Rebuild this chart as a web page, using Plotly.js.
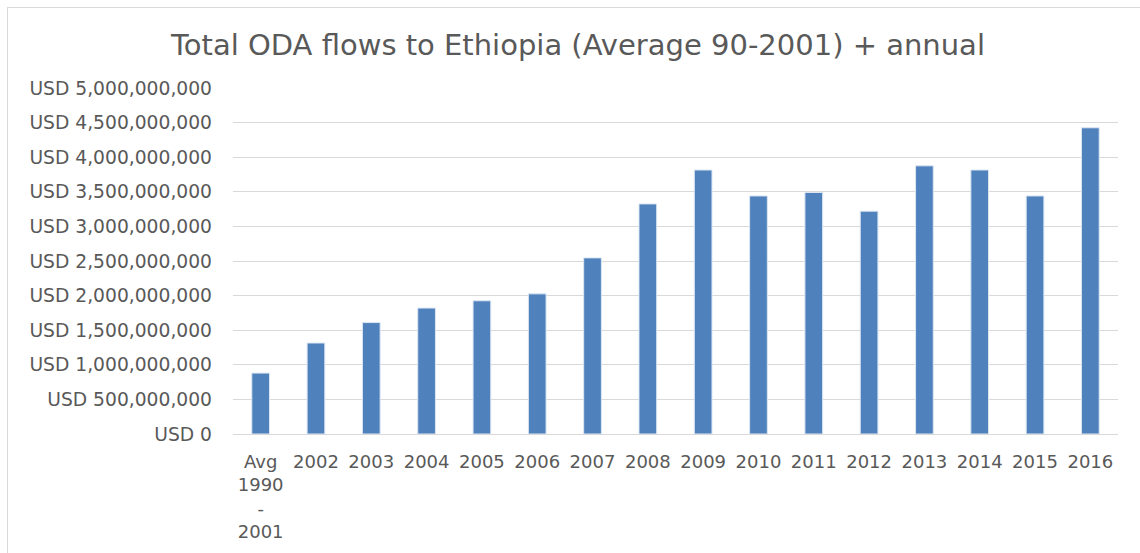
<!DOCTYPE html>
<html>
<head>
<meta charset="utf-8">
<script src="https://cdn.plot.ly/plotly-3.0.1.min.js"></script>
<style>
  html, body { margin: 0; padding: 0; background: #ffffff; }
  #chart { position: absolute; left: 0; top: 0; width: 1140px; height: 553px; }
  #frame { position: absolute; left: 7px; top: 7px; width: 1140px; height: 560px;
           border-top: 1px solid #d9d9d9; border-left: 1px solid #d9d9d9; pointer-events: none; }
</style>
</head>
<body>
<div id="chart"></div>
<div id="frame"></div>
<script>
const categories = ["Avg<br>1990<br>-<br>2001", "2002", "2003", "2004", "2005", "2006", "2007", "2008",
                    "2009", "2010", "2011", "2012", "2013", "2014", "2015", "2016"];
const odaValues = [880000000, 1315000000, 1610000000, 1820000000, 1925000000, 2025000000, 2545000000, 3325000000,
                   3815000000, 3440000000, 3490000000, 3220000000, 3875000000, 3815000000, 3440000000, 4425000000];
const titleText = "Total ODA flows to Ethiopia (Average 90-2001) + annual";

const textColor = "#595959";
const fontFamily = "DejaVu Sans, sans-serif";

Plotly.newPlot("chart", [{
  type: "bar",
  x: categories,
  y: odaValues,
  marker: { color: "#4f81bd", line: { color: "#dce6f2", width: 1 } },
  hoverinfo: "x+y"
}], {
  width: 1140,
  height: 553,
  margin: { l: 233, r: 22, t: 88, b: 119 },
  paper_bgcolor: "#ffffff",
  plot_bgcolor: "#ffffff",
  bargap: 0.68,
  showlegend: false,
  title: {
    text: titleText,
    x: 0.507, xanchor: "center",
    y: 0.918, yanchor: "middle",
    font: { family: fontFamily, size: 29, color: textColor }
  },
  xaxis: {
    type: "category",
    tickfont: { family: fontFamily, size: 18, color: textColor },
    showgrid: false,
    showline: false,
    ticks: "",
    tickangle: 0,
    ticklabelstandoff: 15,
    fixedrange: true
  },
  yaxis: {
    range: [0, 5000000000],
    dtick: 500000000,
    tick0: 0,
    tickprefix: "USD ",
    tickformat: ",d",
    tickfont: { family: fontFamily, size: 18.7, color: textColor },
    gridcolor: "#d9d9d9",
    gridwidth: 1,
    zeroline: true,
    zerolinecolor: "#d9d9d9",
    zerolinewidth: 1,
    showline: false,
    ticks: "",
    ticklabelstandoff: 20,
    fixedrange: true
  }
}, { displayModeBar: false, staticPlot: true });
</script>
</body>
</html>
